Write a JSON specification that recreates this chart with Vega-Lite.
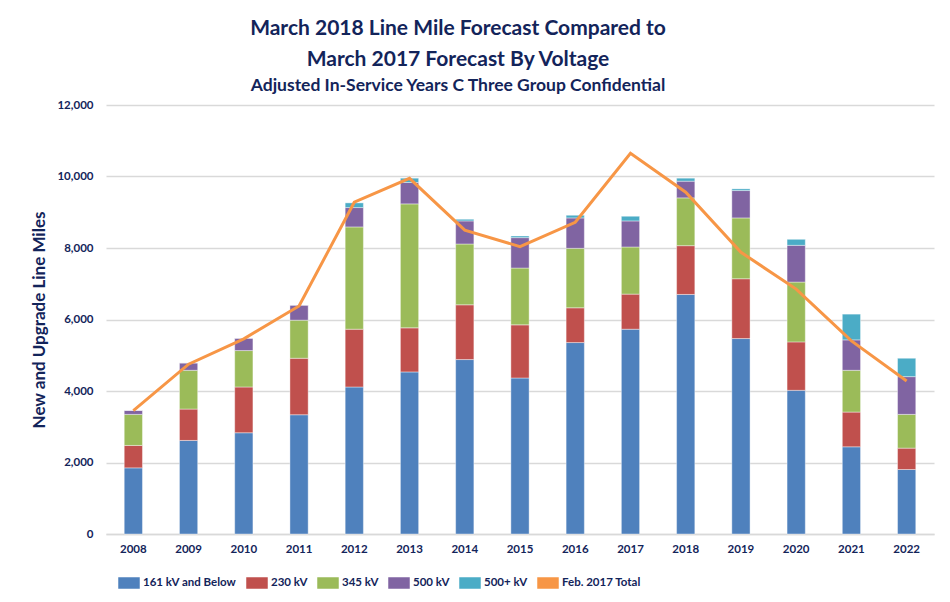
{
  "$schema": "https://vega.github.io/schema/vega-lite/v6.json",
  "width": 828,
  "height": 429,
  "autosize": {"type": "none"},
  "padding": {"left": 106, "top": 105, "right": 16, "bottom": 68},
  "background": "white",
  "title": {
    "text": ["March 2018 Line Mile Forecast Compared to", "March 2017 Forecast By Voltage"],
    "subtitle": "Adjusted In-Service Years C Three Group Confidential",
    "anchor": "middle",
    "frame": "group",
    "dx": -62,
    "font": "Lato",
    "fontSize": 21,
    "fontWeight": "bold",
    "color": "#13245A",
    "lineHeight": 31,
    "subtitleFont": "Lato",
    "subtitleFontSize": 17.5,
    "subtitleFontWeight": "bold",
    "subtitleColor": "#13245A",
    "subtitlePadding": 7,
    "offset": 5
  },
  "datasets": {
    "bars": [
      {"year": "2008", "series": "161 kV and Below", "miles": 1850},
      {"year": "2008", "series": "230 kV", "miles": 627},
      {"year": "2008", "series": "345 kV", "miles": 869},
      {"year": "2008", "series": "500 kV", "miles": 112},
      {"year": "2008", "series": "500+ kV", "miles": 0},
      {"year": "2009", "series": "161 kV and Below", "miles": 2617},
      {"year": "2009", "series": "230 kV", "miles": 878},
      {"year": "2009", "series": "345 kV", "miles": 1084},
      {"year": "2009", "series": "500 kV", "miles": 206},
      {"year": "2009", "series": "500+ kV", "miles": 0},
      {"year": "2010", "series": "161 kV and Below", "miles": 2832},
      {"year": "2010", "series": "230 kV", "miles": 1280},
      {"year": "2010", "series": "345 kV", "miles": 1019},
      {"year": "2010", "series": "500 kV", "miles": 346},
      {"year": "2010", "series": "500+ kV", "miles": 0},
      {"year": "2011", "series": "161 kV and Below", "miles": 3336},
      {"year": "2011", "series": "230 kV", "miles": 1580},
      {"year": "2011", "series": "345 kV", "miles": 1065},
      {"year": "2011", "series": "500 kV", "miles": 421},
      {"year": "2011", "series": "500+ kV", "miles": 0},
      {"year": "2012", "series": "161 kV and Below", "miles": 4112},
      {"year": "2012", "series": "230 kV", "miles": 1617},
      {"year": "2012", "series": "345 kV", "miles": 2860},
      {"year": "2012", "series": "500 kV", "miles": 542},
      {"year": "2012", "series": "500+ kV", "miles": 131},
      {"year": "2013", "series": "161 kV and Below", "miles": 4533},
      {"year": "2013", "series": "230 kV", "miles": 1233},
      {"year": "2013", "series": "345 kV", "miles": 3468},
      {"year": "2013", "series": "500 kV", "miles": 598},
      {"year": "2013", "series": "500+ kV", "miles": 121},
      {"year": "2014", "series": "161 kV and Below", "miles": 4879},
      {"year": "2014", "series": "230 kV", "miles": 1532},
      {"year": "2014", "series": "345 kV", "miles": 1701},
      {"year": "2014", "series": "500 kV", "miles": 645},
      {"year": "2014", "series": "500+ kV", "miles": 47},
      {"year": "2015", "series": "161 kV and Below", "miles": 4364},
      {"year": "2015", "series": "230 kV", "miles": 1486},
      {"year": "2015", "series": "345 kV", "miles": 1589},
      {"year": "2015", "series": "500 kV", "miles": 851},
      {"year": "2015", "series": "500+ kV", "miles": 46},
      {"year": "2016", "series": "161 kV and Below", "miles": 5355},
      {"year": "2016", "series": "230 kV", "miles": 972},
      {"year": "2016", "series": "345 kV", "miles": 1664},
      {"year": "2016", "series": "500 kV", "miles": 850},
      {"year": "2016", "series": "500+ kV", "miles": 75},
      {"year": "2017", "series": "161 kV and Below", "miles": 5729},
      {"year": "2017", "series": "230 kV", "miles": 981},
      {"year": "2017", "series": "345 kV", "miles": 1318},
      {"year": "2017", "series": "500 kV", "miles": 729},
      {"year": "2017", "series": "500+ kV", "miles": 131},
      {"year": "2018", "series": "161 kV and Below", "miles": 6701},
      {"year": "2018", "series": "230 kV", "miles": 1364},
      {"year": "2018", "series": "345 kV", "miles": 1337},
      {"year": "2018", "series": "500 kV", "miles": 467},
      {"year": "2018", "series": "500+ kV", "miles": 84},
      {"year": "2019", "series": "161 kV and Below", "miles": 5467},
      {"year": "2019", "series": "230 kV", "miles": 1673},
      {"year": "2019", "series": "345 kV", "miles": 1701},
      {"year": "2019", "series": "500 kV", "miles": 766},
      {"year": "2019", "series": "500+ kV", "miles": 47},
      {"year": "2020", "series": "161 kV and Below", "miles": 4019},
      {"year": "2020", "series": "230 kV", "miles": 1355},
      {"year": "2020", "series": "345 kV", "miles": 1673},
      {"year": "2020", "series": "500 kV", "miles": 1028},
      {"year": "2020", "series": "500+ kV", "miles": 168},
      {"year": "2021", "series": "161 kV and Below", "miles": 2439},
      {"year": "2021", "series": "230 kV", "miles": 972},
      {"year": "2021", "series": "345 kV", "miles": 1168},
      {"year": "2021", "series": "500 kV", "miles": 851},
      {"year": "2021", "series": "500+ kV", "miles": 720},
      {"year": "2022", "series": "161 kV and Below", "miles": 1804},
      {"year": "2022", "series": "230 kV", "miles": 598},
      {"year": "2022", "series": "345 kV", "miles": 944},
      {"year": "2022", "series": "500 kV", "miles": 1056},
      {"year": "2022", "series": "500+ kV", "miles": 514}
    ],
    "totals": [
      {"year": "2008", "total": 3450},
      {"year": "2009", "total": 4750},
      {"year": "2010", "total": 5460},
      {"year": "2011", "total": 6380},
      {"year": "2012", "total": 9280},
      {"year": "2013", "total": 9950},
      {"year": "2014", "total": 8500},
      {"year": "2015", "total": 8040},
      {"year": "2016", "total": 8720},
      {"year": "2017", "total": 10650},
      {"year": "2018", "total": 9560},
      {"year": "2019", "total": 7880},
      {"year": "2020", "total": 6850},
      {"year": "2021", "total": 5400},
      {"year": "2022", "total": 4280}
    ]
  },
  "config": {
    "view": {"stroke": null},
    "axis": {
      "labelFont": "Lato",
      "labelFontWeight": "bold",
      "labelColor": "#13245A",
      "titleFont": "Lato",
      "titleFontWeight": "bold",
      "titleColor": "#13245A"
    }
  },
  "layer": [
    {
      "data": {"name": "bars"},
      "mark": {"type": "bar", "stroke": "white", "strokeWidth": 0.4},
      "encoding": {
        "x": {
          "field": "year",
          "type": "ordinal",
          "title": null,
          "scale": {"paddingInner": 0.67, "paddingOuter": 0.33},
          "axis": {
            "labelAngle": 0,
            "labelFontSize": 11.5,
            "labelPadding": 9,
            "ticks": false,
            "domainColor": "#D9D9D9",
            "domainWidth": 1.5,
            "grid": false
          }
        },
        "y": {
          "field": "miles",
          "type": "quantitative",
          "aggregate": "sum",
          "stack": "zero",
          "title": "New and Upgrade Line Miles",
          "scale": {"domain": [0, 12000]},
          "axis": {
            "values": [0, 2000, 4000, 6000, 8000, 10000, 12000],
            "format": ",.0f",
            "labelFontSize": 11.5,
            "labelPadding": 13,
            "ticks": false,
            "domain": false,
            "gridColor": "#D9D9D9",
            "gridWidth": 1.5,
            "titleFontSize": 17,
            "titlePadding": 8
          }
        },
        "order": {"field": "series", "sort": "ascending"},
        "color": {
          "field": "series",
          "type": "nominal",
          "scale": {
            "domain": ["161 kV and Below", "230 kV", "345 kV", "500 kV", "500+ kV", "Feb. 2017 Total"],
            "range": ["#4F81BD", "#C0504D", "#9BBB59", "#8064A2", "#4BACC6", "#F79646"]
          },
          "legend": {
            "title": null,
            "orient": "none",
            "legendX": 12,
            "legendY": 467,
            "direction": "horizontal",
            "columns": 6,
            "columnPadding": 7,
            "labelFont": "Lato",
            "labelFontWeight": "bold",
            "labelFontSize": 11.5,
            "labelColor": "#13245A",
            "labelOffset": 3,
            "symbolSize": 400,
            "symbolType": "M-1,-0.5H1V0.5H-1Z",
            "encode": {
              "symbols": {
                "update": {
                  "shape": [
                    {"test": "datum.value === 'Feb. 2017 Total'", "value": "M-1,-0.12H1V0.12H-1Z"},
                    {"value": "M-1,-0.5H1V0.5H-1Z"}
                  ],
                  "fill": {"scale": "color", "field": "value"},
                  "strokeWidth": {"value": 0},
                  "opacity": {"value": 1}
                }
              }
            }
          }
        }
      }
    },
    {
      "data": {"name": "totals"},
      "mark": {"type": "line", "strokeWidth": 3, "strokeJoin": "miter"},
      "encoding": {
        "x": {"field": "year", "type": "ordinal"},
        "y": {"field": "total", "type": "quantitative"},
        "color": {"datum": "Feb. 2017 Total"}
      }
    }
  ]
}
